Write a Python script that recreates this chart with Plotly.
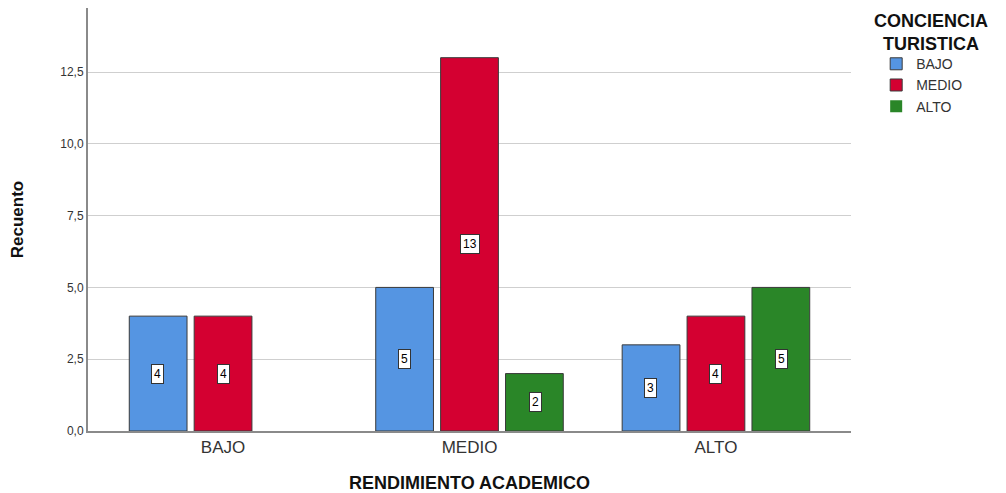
import plotly.graph_objects as go

categories = ["BAJO", "MEDIO", "ALTO"]
series_names = ["BAJO", "MEDIO", "ALTO"]
bajo_vals = [4, 5, 3]
medio_vals = [4, 13, 4]
alto_vals = [0, 2, 5]
colors = ["#5595E2", "#D40031", "#2A8628"]
y_ticks = [0, 2.5, 5, 7.5, 10, 12.5]
legend_title = "CONCIENCIA<br>TURISTICA"

series_vals = [bajo_vals, medio_vals, alto_vals]
FONT = "Liberation Sans, Arial, sans-serif"

fig = go.Figure()
for name, vals, col in zip(series_names, series_vals, colors):
    fig.add_trace(go.Bar(
        x=categories, y=vals, name=name,
        marker=dict(color=col,
                    line=dict(color="#3a3a3a", width=[0 if v == 0 else 1 for v in vals])),
    ))

# value labels (white boxed) at bar midpoints
slot_px = 65.5
for i, vals in enumerate(series_vals):
    for c, v in zip(categories, vals):
        if v == 0:
            continue
        fig.add_annotation(
            x=c, y=v / 2, text=str(v), showarrow=False,
            xshift=(i - 1) * slot_px,
            font=dict(family=FONT, size=12, color="#000"),
            bgcolor="white", bordercolor="#333", borderwidth=1, borderpad=2,
        )

# legend title (centered over the legend entries)
fig.add_annotation(
    xref="paper", yref="paper", x=1.1055, y=0.9415,
    xanchor="center", yanchor="middle",
    text="<b>" + legend_title + "</b>", showarrow=False, align="center",
    font=dict(family=FONT, size=18, color="#111"),
)

fig.update_layout(
    width=1006, height=493,
    margin=dict(l=80, r=163, t=0, b=70),
    paper_bgcolor="white", plot_bgcolor="white",
    barmode="group", bargap=0.21, bargroupgap=0.11,
    separators=",.",
    font=dict(family=FONT, color="#222"),
    xaxis=dict(
        range=[-0.548, 2.548],
        showline=True, linecolor="#8a8a8a", linewidth=2,
        ticks="", tickfont=dict(size=17, color="#333"),
        title=dict(text="<b>RENDIMIENTO ACADEMICO</b>", font=dict(size=18, color="#111"), standoff=20),
        showgrid=False,
    ),
    yaxis=dict(
        range=[0, 14.73],
        tickvals=y_ticks, tickformat=".1f",
        showline=True, linecolor="#8a8a8a", linewidth=2,
        ticks="", tickfont=dict(size=12, color="#333"),
        showgrid=True, gridcolor="#cfcfcf", gridwidth=1,
        zeroline=False,
        title=dict(text="<b>Recuento</b>", font=dict(family="Liberation Sans Narrow, Arial Narrow, sans-serif", size=17, color="#111"), standoff=32),
    ),
    legend=dict(
        x=1.033, xanchor="left", y=0.905, yanchor="top",
        xref="paper",
        font=dict(size=14, color="#333"),
        itemwidth=30, tracegroupgap=0,
        bgcolor="rgba(0,0,0,0)",
    ),
)

fig.write_html("out.html")
